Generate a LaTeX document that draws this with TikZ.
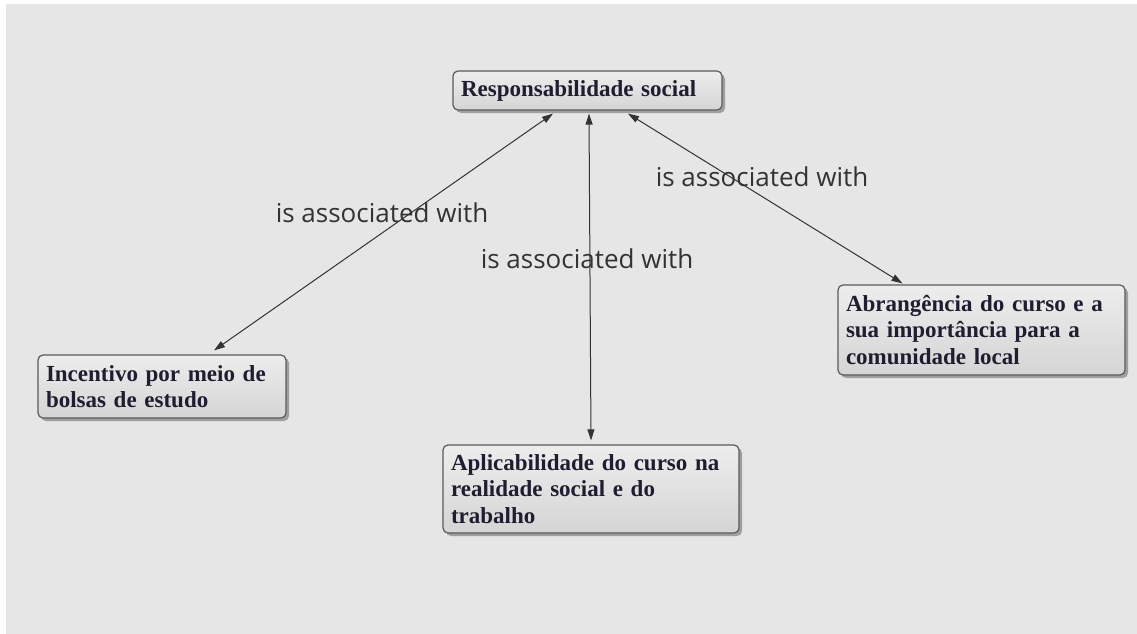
\documentclass[tikz,border=0pt]{standalone}
\usepackage{fontspec}
\setmainfont{Liberation Serif}
\newfontfamily\labelfont{Open Sans}
\usetikzlibrary{arrows.meta,shadows}
\definecolor{canvas}{HTML}{E6E6E6}
\definecolor{boxtop}{HTML}{EDEDED}
\definecolor{boxbot}{HTML}{D5D5D5}
\definecolor{boxline}{HTML}{5A5A5A}
\definecolor{boxtext}{HTML}{1E1E30}
\definecolor{linkcol}{HTML}{333333}
\definecolor{labelcol}{HTML}{333333}
\tikzset{
  concept/.style={draw=boxline, line width=1.2pt, rounded corners=5pt,
    top color=boxtop, bottom color=boxbot,
    drop shadow={shadow xshift=3pt, shadow yshift=-3pt, fill=black!60, opacity=0.55},
    align=left, inner xsep=8pt, inner ysep=0pt, anchor=center,
    text=boxtext, font=\bfseries\fontsize{23}{26.5}\selectfont},
  link/.style={draw=linkcol, line width=1pt,
    {Triangle[length=11pt,width=7pt]}-{Triangle[length=11pt,width=7pt]}},
  linklabel/.style={text=labelcol, font=\labelfont\fontsize{26}{28}\selectfont,
    anchor=base, inner sep=0pt}
}
\begin{document}
\begin{tikzpicture}[x=1pt,y=-1pt]
  \useasboundingbox (0,0) rectangle (1137,634);
  \fill[white] (0,0) rectangle (1137,634);
  \fill[canvas] (6,4) rectangle (1137,634);

  % concepts
  \node[concept, minimum width=269pt, minimum height=39pt, text width=253pt]
    (resp) at (587.5,90.5) {Responsabilidade social};
  \node[concept, minimum width=248pt, minimum height=63pt, text width=232pt]
    (inc) at (162,386.5) {Incentivo por meio de\\bolsas de estudo};
  \node[concept, minimum width=296pt, minimum height=88pt, text width=280pt]
    (apl) at (591,489) {Aplicabilidade do curso na\\realidade social e do\\trabalho};
  \node[concept, minimum width=287pt, minimum height=90pt, text width=271pt]
    (abr) at (981.5,330) {Abrangência do curso e a\\sua importância para a\\comunidade local};

  % links
  \draw[link] ([xshift=-34.5pt,yshift=-3pt]resp.south) -- ([xshift=52pt,yshift=4pt]inc.north);
  \draw[link] ([xshift=1.5pt,yshift=-3pt]resp.south) -- ([yshift=4pt]apl.north);
  \draw[link] ([xshift=40.5pt,yshift=-3pt]resp.south) -- ([xshift=-79pt,yshift=1pt]abr.north);

  % link labels
  \node[linklabel] (l1) at (382,222) {is associated with};
  \node[linklabel] (l2) at (587,268) {is associated with};
  \node[linklabel] (l3) at (762,186) {is associated with};
\end{tikzpicture}
\end{document}
